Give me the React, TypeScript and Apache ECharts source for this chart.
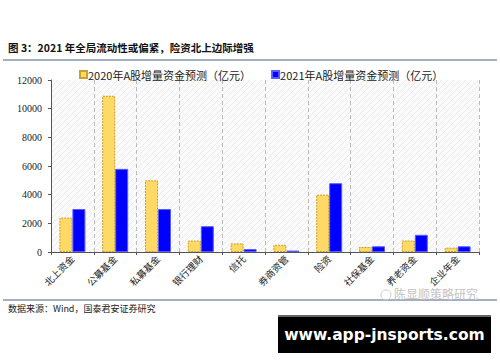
import React, { useEffect, useRef } from "react";
import * as echarts from "echarts";

const categories = ["北上资金", "公募基金", "私募基金", "银行理财", "信托", "券商资管", "险资", "社保基金", "养老资金", "企业年金"];
const series2020 = [2400, 10900, 5000, 800, 600, 500, 4000, 350, 800, 300];
const series2021 = [3000, 5800, 3000, 1800, 200, 100, 4800, 400, 1200, 400];
const legendNames = ["2020年A股增量资金预测（亿元）", "2021年A股增量资金预测（亿元）"];
const yTicks = { min: 0, max: 12000, interval: 2000 };
const titleText = "图 3：2021 年全局流动性或偏紧，险资北上边际增强";
const sourceText = "数据来源：Wind，国泰君安证券研究";
const watermark = "陈显顺策略研究";
const siteText = "www.app-jnsports.com";

const hatch =
  "data:image/svg+xml;utf8," +
  encodeURIComponent(
    '<svg xmlns="http://www.w3.org/2000/svg" width="6" height="6"><rect width="6" height="6" fill="#fafafa"/><path d="M-1,7 L7,-1 M-1,1 L1,-1 M5,7 L7,5" stroke="#e8e8e8" stroke-width="0.8"/></svg>'
  );

export default function App() {
  const ref = useRef<HTMLDivElement>(null);
  useEffect(() => {
    if (!ref.current) return;
    const chart = echarts.init(ref.current, null, { renderer: "svg" });
    const img = new Image();
    img.src = hatch;
    chart.setOption({
      animation: false,
      backgroundColor: "#ffffff",
      textStyle: { fontFamily: "'Noto Sans CJK SC', sans-serif" },
      legend: {
        data: legendNames,
        left: 74,
        top: 64,
        itemWidth: 7,
        itemHeight: 7,
        itemGap: 20,
        icon: "rect",
        textStyle: { fontSize: 11, color: "#222", fontFamily: "'Noto Sans CJK SC', serif", padding: [0, 0, 0, -4] },
      },
      grid: {
        left: 51,
        right: 21,
        top: 80,
        bottom: 110,
        show: true,
        borderWidth: 0,
        backgroundColor: { image: img, repeat: "repeat" },
      },
      xAxis: {
        type: "category",
        data: categories,
        axisLine: { lineStyle: { color: "#555", width: 1 } },
        axisTick: { show: true, length: 3, lineStyle: { color: "#555" } },
        splitLine: { show: true, lineStyle: { color: "#bbb", type: [4, 3], width: 1 } },
        axisLabel: {
          rotate: 45,
          fontSize: 9.5,
          color: "#222",
          margin: 5,
          fontFamily: "'Noto Sans CJK SC', serif",
        },
      },
      yAxis: {
        type: "value",
        min: yTicks.min,
        max: yTicks.max,
        interval: yTicks.interval,
        axisLine: { show: true, lineStyle: { color: "#555", width: 1 } },
        axisTick: { show: true, length: 3, lineStyle: { color: "#555" } },
        splitLine: { show: false },
        axisLabel: {
          fontSize: 10,
          color: "#222",
          margin: 9,
          fontFamily: "'Liberation Serif', serif",
          formatter: (v: number) => String(v),
        },
      },
      series: [
        {
          name: legendNames[0],
          type: "bar",
          data: series2020,
          barWidth: 13,
          barGap: "0%",
          itemStyle: { color: "#FFD966", borderColor: "#C9A227", borderWidth: 1, borderType: [2, 1] },
        },
        {
          name: legendNames[1],
          type: "bar",
          data: series2021,
          barWidth: 13,
          barGap: "0%",
          itemStyle: { color: "#0000FF", borderColor: "#5a5aff", borderWidth: 1 },
        },
      ],
      graphic: [
        {
          type: "text",
          left: 8,
          top: 42,
          style: { text: titleText, fontSize: 10.5, fontWeight: "bold", fill: "#111", fontFamily: "'Noto Sans CJK SC', serif" },
        },
        { type: "line", shape: { x1: 3, y1: 60, x2: 497, y2: 60 }, style: { stroke: "#8496b0", lineWidth: 1.5 } },
        { type: "line", shape: { x1: 3, y1: 300, x2: 497, y2: 300 }, style: { stroke: "#8496b0", lineWidth: 1.5 } },
        {
          type: "text",
          left: 8,
          top: 304,
          style: { text: sourceText, fontSize: 9, fill: "#222", fontFamily: "'Noto Sans CJK SC', serif" },
        },
        { type: "circle", shape: { cx: 386, cy: 295, r: 5 }, style: { fill: "none", stroke: "#ccc", lineWidth: 1 } },
        {
          type: "text",
          left: 394,
          top: 287,
          style: { text: watermark, fontSize: 12, fill: "#c4c4c4", fontFamily: "'Noto Sans CJK SC', sans-serif" },
        },
        { type: "rect", shape: { x: 278, y: 315, width: 213, height: 38 }, style: { fill: "#000" } },
        { type: "rect", shape: { x: 278, y: 315, width: 213, height: 2 }, style: { fill: "#666" } },
        {
          type: "text",
          x: 384.5,
          y: 335,
          style: {
            text: siteText,
            fontSize: 15.5,
            fontWeight: "bold",
            fill: "#fff",
            align: "center",
            verticalAlign: "middle",
            fontFamily: "'DejaVu Sans', sans-serif",
          },
        },
      ],
    });
    return () => chart.dispose();
  }, []);
  return <div ref={ref} style={{ position: "fixed", left: 0, top: 0, width: 500, height: 362 }} />;
}
